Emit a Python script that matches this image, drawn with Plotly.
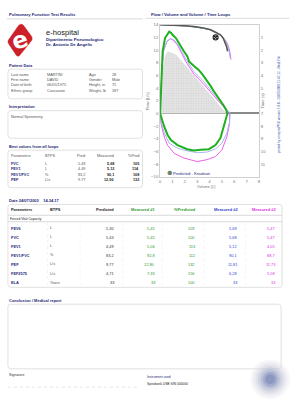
import plotly.graph_objects as go

W, H = 293, 400
FONT = "Liberation Sans, Arial, sans-serif"

# ---------------- data ----------------
patient_labels_left = ["Last name", "First name", "Date of birth", "Ethnic group"]
patient_values_left = ["MARTINI", "DAVID", "06/05/1975", "Caucasian"]
patient_labels_right = ["Age", "Gender", "Height, in", "Weight, lb"]
patient_values_right = ["28", "Male", "71", "187"]
interpretation_text = "Normal Spirometry"

best_header = ["Parameters", "BTPS", "Pred", "Measured", "%Pred"]
best_params = ["FVC", "FEV1", "FEV1/FVC", "PEF"]
best_units = ["L", "L", "%", "L/s"]
best_pred = ["5.43", "4.49", "83,2", "9.77"]
best_meas = ["5,68", "5,12", "90,1", "12,90"]
best_pct = ["105", "114", "108", "132"]

test_date = "Date 24/07/2003"
test_time = "14.34.17"
main_header = ["Parameters", "BTPS", "Predicted", "Measured #1", "%Predicted", "Measured #2", "Measured #3"]
main_params = ["FEV6", "FVC", "FEV1", "FEV1/FVC", "PEF", "FEF2575", "ELA"]
main_units = ["L", "L", "L", "%", "L/s", "L/s", "Years"]
main_pred = ["5,30", "5,43", "4,49", "83,2", "9,77", "4,71", "33"]
main_meas1 = ["5,45", "5,45", "5,06", "92,8", "12,90", "7,33", "33"]
main_pctpred = ["103", "100", "113", "112", "132", "156", "100"]
main_meas2 = ["5,69", "5,68", "5,12", "90,1", "11,81", "6,28", "33"]
main_meas3 = ["5,47", "5,47", "4,05", "88,7", "11,73", "5,58", "33"]

# flow / volume loops (volume L, flow L/s)
pred_vol = [0, 0.05, 0.2, 0.4, 0.6, 1.1, 1.28, 2.0, 3.0, 4.0, 5.0, 5.28, 5.43]
pred_flow = [0, 3.0, 7.0, 9.0, 9.8, 9.5, 9.3, 7.7, 5.4, 3.1, 0.9, 0.2, 0]

m1_vol = [0, 0.05, 0.12, 0.21, 0.4, 0.6, 0.74, 0.9, 1.0, 1.28, 1.6, 1.9, 2.21, 2.34, 2.74, 3.1, 3.41, 3.75,
          4.08, 4.35, 4.61, 4.9, 5.14, 5.3, 5.41, 5.45,
          5.36, 5.14, 4.88, 4.48, 3.94, 3.28, 2.74, 2.2, 1.41, 0.88, 0.61, 0.34, 0.08, 0]
m1_flow = [0, 3.0, 6.5, 9.8, 11.9, 12.6, 12.9, 12.7, 12.4, 11.9, 10.8, 9.9, 9.0, 8.2, 7.5, 6.9, 6.2, 5.3,
           4.35, 3.5, 2.8, 2.0, 1.25, 0.7, 0.2, 0,
           -0.6, -2.1, -3.9, -5.0, -5.65, -5.75, -5.86, -5.65, -5.0, -4.2, -3.4, -2.1, -0.6, 0]

m2_vol = [0, 0.05, 0.15, 0.3, 0.55, 0.85, 1.1, 1.41, 2.08, 2.74, 3.54, 4.34, 5.14, 5.6, 5.68,
          5.62, 5.4, 5.0, 4.48, 3.8, 3.0, 2.2, 1.41, 0.74, 0.34, 0.08, 0]
m2_flow = [0, 3.0, 7.0, 10.0, 11.4, 11.8, 11.6, 11.0, 8.6, 6.6, 5.0, 3.1, 1.2, 0.1, 0,
           -1.3, -3.1, -4.7, -5.6, -6.1, -6.2, -5.9, -5.5, -4.7, -3.1, -1.3, 0]

m3_vol = [0, 0.05, 0.15, 0.3, 0.55, 0.82, 1.1, 1.41, 2.08, 2.74, 3.54, 4.34, 5.14, 5.54, 5.6,
          5.62, 5.4, 5.0, 4.48, 3.8, 3.0, 1.94, 1.14, 0.6, 0.34, 0.08, 0]
m3_flow = [0, 3.0, 7.0, 10.0, 11.3, 11.8, 11.5, 10.8, 8.2, 6.2, 4.6, 2.8, 1.0, 0.1, 0,
           -1.6, -3.7, -5.75, -6.8, -7.3, -7.6, -7.05, -6.3, -5.0, -3.7, -1.6, 0]

# volume / time curves (volume L, time s)
vt1_vol = [0, 0.5, 1.0, 2.0, 2.74, 3.5, 4.08, 4.5, 4.88, 5.1, 5.28, 5.4, 5.46]
vt1_time = [0, 0.01, 0.03, 0.08, 0.15, 0.25, 0.4, 0.58, 0.8, 1.05, 1.45, 1.8, 2.1]
vtg_vol = [0, 1.0, 2.0, 3.0, 4.0, 4.5, 4.9, 5.2, 5.35, 5.42]
vtg_time = [0, 0.03, 0.09, 0.2, 0.38, 0.6, 0.85, 1.2, 1.6, 2.0]
vt2_vol = [0, 1.0, 2.0, 3.0, 4.0, 4.6, 5.0, 5.3, 5.5, 5.6, 5.66]
vt2_time = [0, 0.03, 0.09, 0.2, 0.38, 0.62, 0.9, 1.3, 1.75, 2.2, 2.6]
vt3_vol = [0, 1.0, 2.0, 3.0, 4.0, 4.6, 5.0, 5.35, 5.55, 5.66, 5.73]
vt3_time = [0, 0.03, 0.09, 0.2, 0.38, 0.62, 0.9, 1.3, 1.75, 2.25, 2.75]
pred_fev1_vol = [4.49]
pred_fev1_time = [1.0]

flow_ticks = list(range(-10, 15, 2))
vol_ticks = list(range(0, 9))
time_ticks = [1, 2, 3, 4, 5, 7, 8, 9, 10, 11]

# ---------------- colours ----------------
NAVY = "#1d2878"
GREEN_T = "#2c9a2c"
BLUE_T = "#2f3fd0"
MAG_T = "#e030e0"
GRAY_T = "#555555"
BOX = "#d9d9d9"


def X(px):
    return px / W


def Y(py):
    return 1 - py / H


annotations = []
shapes = []


def txt(x, y, s, size=3.8, color=GRAY_T, bold=False, anchor="left", angle=0, family=FONT):
    annotations.append(dict(
        x=X(x), y=Y(y), xref="paper", yref="paper",
        text=("<b>%s</b>" % s) if bold else s, showarrow=False,
        xanchor=anchor, yanchor="middle", textangle=angle, borderpad=0,
        font=dict(size=size, color=color, family=family)))


def rrect(x0, y0, x1, y1, r=3, color=BOX, width=0.8, fill="rgba(0,0,0,0)"):
    p = (f"M {X(x0 + r)},{Y(y0)} L {X(x1 - r)},{Y(y0)} Q {X(x1)},{Y(y0)} {X(x1)},{Y(y0 + r)} "
         f"L {X(x1)},{Y(y1 - r)} Q {X(x1)},{Y(y1)} {X(x1 - r)},{Y(y1)} "
         f"L {X(x0 + r)},{Y(y1)} Q {X(x0)},{Y(y1)} {X(x0)},{Y(y1 - r)} "
         f"L {X(x0)},{Y(y0 + r)} Q {X(x0)},{Y(y0)} {X(x0 + r)},{Y(y0)} Z")
    shapes.append(dict(type="path", path=p, xref="paper", yref="paper",
                       line=dict(color=color, width=width), fillcolor=fill, layer="below"))


def hline(x0, x1, y, color=BOX, width=0.8, dash="solid"):
    shapes.append(dict(type="line", xref="paper", yref="paper", x0=X(x0), x1=X(x1), y0=Y(y), y1=Y(y),
                       line=dict(color=color, width=width, dash=dash), layer="below"))


def vline(x, y0, y1, color=BOX, width=0.6, dash="dot"):
    shapes.append(dict(type="line", xref="paper", yref="paper", x0=X(x), x1=X(x), y0=Y(y0), y1=Y(y1),
                       line=dict(color=color, width=width, dash=dash), layer="below"))


# ---------------- header / logo ----------------
txt(7, 12.5, "Pulmonary Function Test Results", 4.2, NAVY, True)
hline(6, 143, 17, "#e2e2e2", 1.2)
logo = (f"M {X(20)},{Y(22.5)} Q {X(22)},{Y(22.5)} {X(23)},{Y(24)} L {X(31)},{Y(35)} "
        f"Q {X(32)},{Y(37)} {X(31)},{Y(39)} L {X(18.5)},{Y(54.5)} Q {X(17)},{Y(55.5)} {X(15.5)},{Y(54)} "
        f"L {X(7.5)},{Y(42)} Q {X(6.5)},{Y(40)} {X(7.5)},{Y(38.5)} L {X(18)},{Y(23.5)} Z")
shapes.append(dict(type="path", path=logo, xref="paper", yref="paper",
                   line=dict(color="#c8202a", width=0.5), fillcolor="#cc2129", layer="below"))
txt(19.3, 38.5, "e", 23, "white", True, "center", -18, "DejaVu Sans, sans-serif")
txt(44, 30.5, "e-hospital", 7.6, "#151515", False)
txt(44.5, 38, "Dipartimento Pneumologico", 4.3, NAVY, True)
txt(44.5, 43.5, "Dr. Antonio De Angelis", 4.3, NAVY, True)

# ---------------- patient data ----------------
txt(7, 64.5, "Patient Data", 4.0, NAVY, True)
rrect(7, 68, 143, 98)
pat_y = [73.5, 79, 84.5, 90]
for i, yy in enumerate(pat_y):
    txt(9, yy, patient_labels_left[i], 3.8)
    txt(45, yy, patient_values_left[i], 3.8)
    txt(88, yy, patient_labels_right[i], 3.8)
    txt(111, yy, patient_values_right[i], 3.8)

# ---------------- interpretation ----------------
txt(7, 106, "Interpretation", 4.0, NAVY, True)
rrect(7, 110, 143, 138)
txt(9, 116, interpretation_text, 3.8)

# ---------------- best values ----------------
txt(7, 146, "Best values from all loops", 4.0, NAVY, True)
rrect(7, 150, 143, 188)
best_x = [(9, "left"), (43, "left"), (86, "right"), (115, "right"), (140, "right")]
for j, h in enumerate(best_header):
    txt(best_x[j][0], 155.5, h, 3.8, GRAY_T, False, best_x[j][1])
best_y = [164, 169.5, 175, 180.5]
for i, yy in enumerate(best_y):
    txt(9, yy, best_params[i], 3.8, NAVY, True)
    txt(43, yy, best_units[i], 3.8)
    txt(86, yy, best_pred[i], 3.8, GRAY_T, False, "right")
    txt(115, yy, best_meas[i], 3.8, "#222", True, "right")
    txt(140, yy, best_pct[i], 3.8, "#222", True, "right")

# ---------------- main table ----------------
txt(7, 201, test_date + "&nbsp;&nbsp;&nbsp;&nbsp;" + test_time, 4.0, NAVY, True)
rrect(7, 205, 284, 289)
head_x = [(9, "left"), (49, "left"), (115, "right"), (157, "right"), (198, "right"), (240, "right"), (279, "right")]
head_c = ["#222", "#222", "#222", GREEN_T, GREEN_T, BLUE_T, MAG_T]
for j, h in enumerate(main_header):
    txt(head_x[j][0], 210.5, h, 3.9, head_c[j], True, head_x[j][1])
hline(7, 284, 216, "#cfcfcf", 0.8)
txt(8, 219.3, "Forced Vital Capacity", 3.3, "#222")
hline(7, 284, 222.5, "#cfcfcf", 0.8)
for vx in [47, 80, 123, 163, 205, 247]:
    vline(vx, 223, 288, "#ececec", 0.6)
cols = [main_pred, main_meas1, main_pctpred, main_meas2, main_meas3]
col_x = [115, 157, 197, 239, 278]
col_c = ["#333", GREEN_T, GREEN_T, BLUE_T, MAG_T]
for i, p in enumerate(main_params):
    yy = 229 + 9.2 * i
    txt(9, yy, p, 3.9, NAVY, True)
    txt(49, yy, main_units[i], 3.8)
    for k in range(5):
        txt(col_x[k], yy, cols[k][i], 3.9, col_c[k], False, "right")

# ---------------- conclusion / footer ----------------
txt(7, 302, "Conclusion / Medical report", 4.0, NAVY, True)
rrect(7, 306, 283, 371.5)
txt(7, 377.5, "Signature", 3.6, "#333")
hline(7, 140, 390, "#dddddd", 0.8, "dot")
txt(146, 380, "Instrument used", 3.3, NAVY)
txt(146, 386.5, "Spirobank USB S/N 000000", 3.3, "#222")
# soft blurred stamp (bottom right)
blob = [(20, "rgba(225,225,230,0.25)"), (17.5, "rgba(210,212,222,0.25)"), (15, "rgba(195,198,215,0.28)"),
        (12.5, "rgba(170,178,205,0.3)"), (10, "rgba(145,155,195,0.32)"), (7.5, "rgba(120,132,185,0.35)"),
        (5, "rgba(100,115,175,0.35)")]
for r, c in blob:
    shapes.append(dict(type="circle", xref="paper", yref="paper", x0=X(272 - r), x1=X(272 + r),
                       y0=Y(382 - r), y1=Y(382 + r), line=dict(width=0), fillcolor=c, layer="below"))

# ---------------- chart texts ----------------
txt(151, 12.5, "Flow / Volume and Volume / Time Loops", 4.2, NAVY, True)
hline(146, 291, 16.5, "#e2e2e2", 1.2)
txt(148, 100, "Flow [L/s]", 4.2, "#777", False, "center", -90)
txt(264.5, 100, "Time (s)", 4.2, "#777", False, "center", -90)
txt(207, 186.5, "Volume [L]", 3.9, "#777", False, "center")
txt(280.5, 104, "printed by winspiroPRO version 1.8.0 - 23/07/2008 11:47:12 - MedLFile", 3.1, "#3a48b0",
    False, "center", -90)
txt(166.5, 173.5, "⊗", 6.5, "#2b4a2b", True, "left", 0, "DejaVu Sans, sans-serif")
txt(173, 173.5, "Predicted - Knudson", 4.1, NAVY, False)

# ---------------- chart traces ----------------
fig = go.Figure()
fig.add_trace(go.Scatter(x=pred_vol, y=pred_flow, mode="lines", fill="toself",
                         fillcolor="#e4e4e4", line=dict(width=0, color="#e4e4e4"),
                         fillpattern=dict(shape=".", fgcolor="#c4c4c4", bgcolor="#e6e6e6", size=2.5, solidity=0.4),
                         hoverinfo="skip", showlegend=False))
fig.add_trace(go.Scatter(x=m3_vol, y=m3_flow, mode="lines", line=dict(color="#ec5fec", width=1),
                         showlegend=False))
fig.add_trace(go.Scatter(x=m2_vol, y=m2_flow, mode="lines", line=dict(color="#a6b8f0", width=1),
                         showlegend=False))
fig.add_trace(go.Scatter(x=m1_vol, y=m1_flow, mode="lines", line=dict(color="#1eb01e", width=2),
                         showlegend=False))
fig.add_trace(go.Scatter(x=vt3_vol, y=vt3_time, yaxis="y2", mode="lines", line=dict(color="#ec5fec", width=1),
                         showlegend=False))
fig.add_trace(go.Scatter(x=vt2_vol, y=vt2_time, yaxis="y2", mode="lines", line=dict(color="#a6b8f0", width=1),
                         showlegend=False))
fig.add_trace(go.Scatter(x=vtg_vol, y=vtg_time, yaxis="y2", mode="lines", line=dict(color="#6fd06f", width=1),
                         showlegend=False))
fig.add_trace(go.Scatter(x=vt1_vol, y=vt1_time, yaxis="y2", mode="lines", line=dict(color="#555555", width=1.5),
                         showlegend=False))
fig.add_trace(go.Scatter(x=pred_fev1_vol, y=pred_fev1_time, yaxis="y2", mode="markers",
                         marker=dict(symbol="circle-x-open", size=5, color="#222", line=dict(width=1.1)),
                         showlegend=False))

tickfont = dict(size=4.3, color="#777", family=FONT)
fig.update_layout(
    width=W, height=H, autosize=False,
    margin=dict(l=0, r=0, t=0, b=0),
    paper_bgcolor="white", plot_bgcolor="white",
    font=dict(family=FONT),
    showlegend=False,
    xaxis=dict(domain=[X(160.7), X(260.7)], range=[0, 8], tickvals=vol_ticks, tickfont=tickfont,
               showgrid=False, zeroline=False, showline=True, linecolor="#d0d0d0", linewidth=0.8,
               mirror=True, ticks="", fixedrange=True),
    yaxis=dict(domain=[Y(177), Y(23)], range=[-10, 14], tickvals=flow_ticks, tickfont=tickfont,
               showgrid=False, zeroline=True, zerolinecolor="#8a8a8a", zerolinewidth=2,
               showline=True, linecolor="#d0d0d0", linewidth=0.8, ticks="", fixedrange=True),
    yaxis2=dict(overlaying="y", side="right", range=[12, 0], tickvals=time_ticks, tickfont=tickfont,
                showgrid=False, zeroline=False, showline=True, linecolor="#d0d0d0", linewidth=0.8,
                ticks="", fixedrange=True),
    annotations=annotations,
    shapes=shapes,
)

fig.write_html("out.html", config={"displayModeBar": False})
